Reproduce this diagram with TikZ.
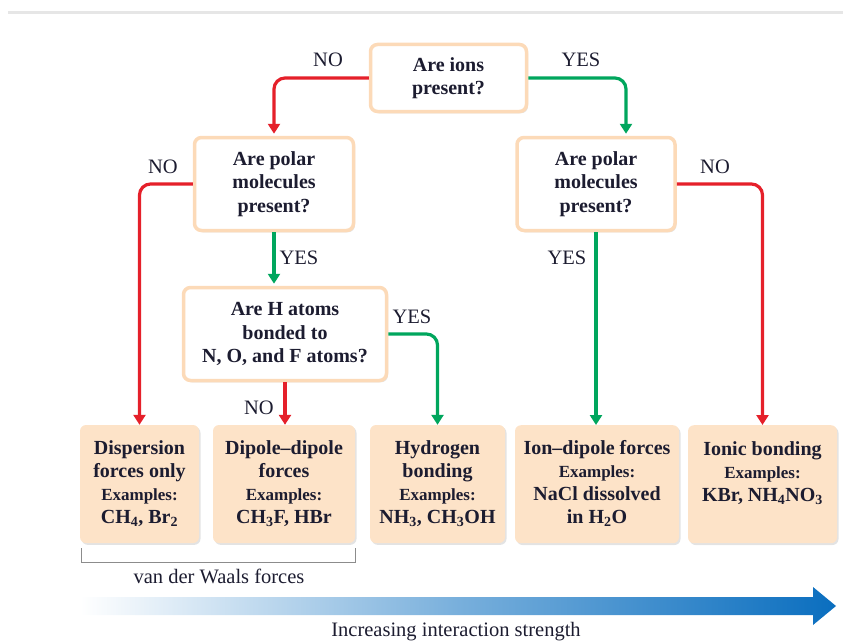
\documentclass[tikz,border=0pt]{standalone}
\usepackage{fontspec}
\setmainfont{Liberation Serif}
\usetikzlibrary{arrows.meta,shadows,calc}
\definecolor{peach}{HTML}{FCDAB8}
\definecolor{peachfill}{HTML}{FDE3C8}
\definecolor{myred}{HTML}{E5202A}
\definecolor{mygreen}{HTML}{00A65D}
\definecolor{txt}{HTML}{1C1C30}
\definecolor{arrowblue}{HTML}{0A6EBF}
\definecolor{topline}{HTML}{E6E6E6}
\newcommand\titfont{\fontsize{20}{23}\selectfont}
\newcommand\exfont{\fontsize{17}{20}\selectfont}
\begin{document}
\begin{tikzpicture}[x=1pt,y=-1pt,
  qbox/.style={draw=peach, line width=3.5pt, fill=white, rounded corners=7pt,
    align=center, inner sep=0pt, text=txt,
    font=\bfseries\fontsize{20}{23.5}\selectfont,
    drop shadow={shadow xshift=1.5pt,shadow yshift=-1.8pt,opacity=0.22}},
  bbox/.style={fill=peachfill, draw=none, rounded corners=6pt,
    align=center, inner sep=0pt, text=txt,
    minimum height=118pt, font=\bfseries\titfont,
    drop shadow={shadow xshift=1.5pt,shadow yshift=-1.8pt,opacity=0.22}},
  lab/.style={font=\fontsize{20.5}{23}\selectfont, text=txt, inner sep=0pt},
  con/.style={line width=3.2pt, rounded corners=11pt,
    -{Triangle[width=12pt,length=10pt]}},
  nocon/.style={con, draw=myred},
  yescon/.style={con, draw=mygreen}
]
\useasboundingbox (0,0) rectangle (843,642);
\draw[line width=3pt, topline] (8,13) -- (843,13);

% question boxes
\node[qbox, minimum width=156pt, minimum height=67pt] (q1) at (448.5,78) {Are ions\\present?};
\node[qbox, minimum width=159pt, minimum height=93pt] (q2) at (274,184) {Are polar\\molecules\\present?};
\node[qbox, minimum width=158pt, minimum height=93pt] (q3) at (596,184) {Are polar\\molecules\\present?};
\node[qbox, minimum width=203pt, minimum height=93pt] (q4) at (285,334) {Are H atoms\\bonded to\\N, O, and F atoms?};

% result boxes
\node[bbox, minimum width=119pt] (bA) at (139.5,484)
  {Dispersion\\forces only\\{\exfont Examples:}\\CH\textsubscript{4}, Br\textsubscript{2}};
\node[bbox, minimum width=142pt] (bB) at (284,484)
  {Dipole–dipole\\forces\\{\exfont Examples:}\\CH\textsubscript{3}F, HBr};
\node[bbox, minimum width=135pt] (bC) at (437.5,484)
  {Hydrogen\\bonding\\{\exfont Examples:}\\NH\textsubscript{3}, CH\textsubscript{3}OH};
\node[bbox, minimum width=164pt, anchor=north] (bD) at (597,425)
  {\\[-11pt]Ion–dipole forces\\{\exfont Examples:}\\NaCl dissolved\\in H\textsubscript{2}O};
\node[bbox, minimum width=149pt, anchor=north] (bE) at (762.5,425)
  {\\[-11pt]Ionic bonding\\{\exfont Examples:}\\KBr, NH\textsubscript{4}NO\textsubscript{3}\\\phantom{X}};

% connectors
\draw[nocon, shorten >=2pt] (q1.west) -| (q2.north);
\draw[yescon, shorten >=2pt] (q1.east) -| ([xshift=30pt]q3.north);
\draw[nocon] (q2.west) -| (bA.north);
\draw[yescon, shorten >=2pt] (q2.south) -- (q2.south |- q4.north);
\draw[nocon] (q4.south) -- (q4.south |- bB.north);
\draw[yescon] (q4.east) -| (bC.north);
\draw[yescon] (q3.south) -- (q3.south |- bD.north);
\draw[nocon] (q3.east) -| (bE.north);

% labels
\node[lab] (l1) at (328,60) {NO};
\node[lab] (l2) at (581,60) {YES};
\node[lab] (l3) at (163,167) {NO};
\node[lab] (l4) at (299,258) {YES};
\node[lab] (l5) at (412,317) {YES};
\node[lab] (l6) at (259,408) {NO};
\node[lab] (l7) at (567,258) {YES};
\node[lab] (l8) at (715,167) {NO};

% van der Waals bracket
\coordinate (br1) at (81,548);
\coordinate (br2) at (355,548);
\draw[line width=1pt, black!45] (br1) -- ++(0,14) -| (br2);
\node[text=txt, inner sep=0pt, font=\fontsize{20.5}{22}\selectfont] (vdw) at (219,576) {van der Waals forces};

% gradient arrow
\shade[left color=white, right color=arrowblue, middle color=arrowblue!55]
  (80,597) -- (813,597) -- (813,587) -- (836,606) -- (813,625) -- (813,615) -- (80,615) -- cycle;
\node[text=txt, inner sep=0pt, font=\fontsize{20.5}{22}\selectfont] (inc) at (456,632) {Increasing interaction strength};
\end{tikzpicture}
\end{document}
